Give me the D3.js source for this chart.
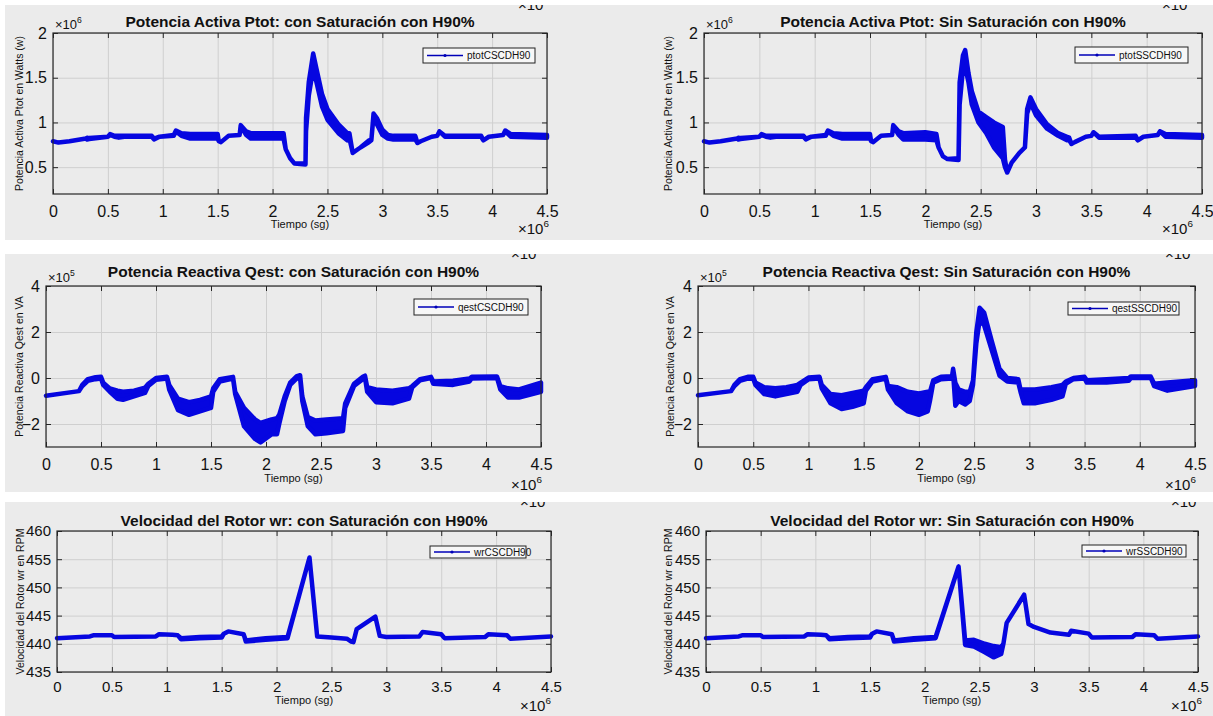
<!DOCTYPE html>
<html>
<head>
<meta charset="utf-8">
<script src="https://cdn.jsdelivr.net/npm/d3@7"></script>
<style>
  body { margin: 0; background: #fff; }
  svg { display: block; }
  text { font-family: "Liberation Sans", Arial, Helvetica, sans-serif; fill: #111; }
</style>
</head>
<body>
<div id="chart"></div>
<script>
// ---- data (time in units of 1e6, as on the x axis) ----
const xTicks = [0, 0.5, 1, 1.5, 2, 2.5, 3, 3.5, 4, 4.5];
const ptotTicks = [0.5, 1, 1.5, 2];
const qestTicks = [-2, 0, 2, 4];
const wrTicks = [435, 440, 445, 450, 455, 460];

// each row: [t, low, high]  (low/high = envelope of the oscillating trace)
const ptotCS = [
  [0,.79,.79],[0.05,.775,.775],[0.15,.79,.79],[0.3,.82,.82],[0.31,.81,.83],[0.33,.815,.825],
  [0.5,.84,.84],[0.52,.86,.87],[0.56,.84,.85],[0.6,.83,.85],[0.65,.84,.85],[0.9,.84,.85],
  [0.92,.81,.82],[0.97,.84,.84],[1.1,.85,.86],[1.12,.9,.91],[1.17,.85,.88],[1.25,.82,.87],
  [1.5,.82,.87],[1.51,.79,.79],[1.53,.78,.78],[1.6,.85,.85],[1.7,.86,.86],[1.71,.96,.97],
  [1.76,.86,.9],[1.8,.82,.88],[2.1,.82,.88],[2.12,.7,.7],[2.16,.6,.6],[2.2,.54,.54],
  [2.3,.53,.54],[2.305,.9,1.05],[2.33,1.3,1.45],[2.37,1.6,1.77],[2.4,1.45,1.6],[2.45,1.18,1.32],
  [2.5,1.03,1.15],[2.6,.88,.98],[2.68,.8,.88],[2.7,.82,.88],[2.73,.66,.66],[2.8,.72,.72],
  [2.88,.78,.8],[2.9,.8,.8],[2.92,1.08,1.1],[2.95,.98,1.05],[3.0,.86,.92],[3.05,.82,.86],
  [3.1,.81,.85],[3.3,.81,.85],[3.32,.77,.77],[3.35,.79,.79],[3.45,.84,.84],[3.5,.85,.85],
  [3.52,.9,.9],[3.57,.84,.85],[3.9,.84,.85],[3.92,.8,.8],[3.97,.84,.84],[4.1,.86,.86],
  [4.12,.9,.91],[4.17,.84,.87],[4.5,.83,.86]
];
const ptotSS = [
  [0,.79,.79],[0.05,.775,.775],[0.15,.79,.79],[0.3,.82,.82],[0.31,.81,.83],[0.33,.815,.825],
  [0.5,.84,.84],[0.52,.86,.87],[0.56,.84,.85],[0.6,.83,.85],[0.65,.84,.85],[0.9,.84,.85],
  [0.92,.81,.82],[0.97,.84,.84],[1.1,.85,.86],[1.12,.9,.91],[1.17,.85,.88],[1.25,.82,.87],
  [1.5,.82,.87],[1.51,.79,.79],[1.53,.78,.78],[1.6,.85,.85],[1.7,.86,.86],[1.71,.96,.97],
  [1.76,.86,.9],[1.8,.81,.88],[2.0,.81,.89],[2.1,.8,.87],[2.12,.72,.72],[2.16,.62,.62],
  [2.2,.59,.59],[2.3,.58,.6],[2.31,1.2,1.45],[2.34,1.6,1.75],[2.36,1.62,1.81],[2.39,1.45,1.55],
  [2.42,1.2,1.35],[2.48,1.0,1.12],[2.55,.88,1.06],[2.62,.72,1.0],[2.7,.6,.95],[2.72,.5,.58],
  [2.74,.44,.44],[2.78,.55,.55],[2.85,.66,.66],[2.9,.72,.72],[2.92,1.1,1.15],[2.95,1.22,1.28],
  [3.0,1.08,1.15],[3.1,.93,.98],[3.2,.85,.88],[3.28,.8,.84],[3.3,.8,.83],[3.32,.76,.76],
  [3.35,.78,.78],[3.45,.84,.84],[3.5,.85,.85],[3.52,.89,.89],[3.57,.83,.84],[3.9,.83,.85],
  [3.92,.8,.8],[3.97,.84,.84],[4.1,.86,.86],[4.12,.9,.9],[4.17,.84,.87],[4.5,.83,.86]
];
const qestCS = [
  [0,-.77,-.77],[0.3,-.57,-.57],[0.33,-.35,-.3],[0.38,-.12,-.05],[0.45,-.05,.03],[0.5,-.02,.05],
  [0.52,-.3,-.2],[0.58,-.6,-.45],[0.65,-.9,-.55],[0.7,-.95,-.6],[0.8,-.8,-.55],[0.9,-.65,-.42],
  [0.93,-.35,-.25],[1.0,-.08,0],[1.1,-.02,.05],[1.12,-.5,-.3],[1.2,-1.4,-.9],[1.3,-1.6,-1.05],
  [1.4,-1.45,-.95],[1.5,-1.3,-.8],[1.52,-.6,-.45],[1.58,-.15,-.05],[1.7,-.02,.05],[1.72,-.7,-.6],
  [1.8,-2.1,-1.3],[1.9,-2.65,-1.8],[1.95,-2.8,-1.95],[2.05,-2.45,-1.8],[2.1,-2.45,-1.75],
  [2.12,-2.0,-1.6],[2.17,-1.0,-.8],[2.22,-.3,-.2],[2.28,-.02,.08],[2.31,0,.12],[2.33,-1.0,-.8],
  [2.38,-2.1,-1.7],[2.45,-2.45,-1.85],[2.55,-2.4,-1.8],[2.7,-2.3,-1.75],[2.72,-1.3,-1.1],
  [2.8,-.35,-.25],[2.88,-.05,.05],[2.9,0,.1],[2.92,-.6,-.4],[3.0,-1.05,-.5],[3.15,-1.1,-.55],
  [3.3,-.9,-.45],[3.33,-.4,-.35],[3.4,-.1,-.05],[3.5,0,.05],[3.52,-.25,-.15],[3.7,-.3,-.12],
  [3.85,-.15,-.02],[3.87,-.02,.05],[4.1,0,.07],[4.13,-.5,-.35],[4.2,-.85,-.45],[4.3,-.85,-.5],
  [4.5,-.6,-.2]
];
const qestSS = [
  [0,-.75,-.75],[0.3,-.57,-.57],[0.33,-.35,-.3],[0.38,-.12,-.05],[0.45,-.03,.05],[0.5,-.02,.05],
  [0.52,-.3,-.2],[0.6,-.7,-.4],[0.7,-.8,-.45],[0.8,-.7,-.4],[0.9,-.6,-.3],[0.93,-.3,-.2],
  [1.0,-.06,.02],[1.1,-.02,.05],[1.12,-.45,-.3],[1.2,-1.1,-.7],[1.3,-1.35,-.75],[1.4,-1.25,-.65],
  [1.5,-1.1,-.55],[1.52,-.55,-.4],[1.58,-.15,-.05],[1.7,-.02,.05],[1.72,-.5,-.35],[1.8,-1.1,-.4],
  [1.9,-1.45,-.6],[2.0,-1.6,-.67],[2.08,-1.45,-.6],[2.1,-1.0,-.6],[2.13,-.2,-.1],[2.2,-.05,.05],
  [2.3,-.02,.08],[2.31,.2,.4],[2.33,-1.2,-.2],[2.36,-1.0,-.5],[2.42,-1.15,-.6],[2.46,-1.0,-.6],
  [2.49,-.3,-.1],[2.52,1.5,2.0],[2.55,2.5,3.05],[2.59,2.3,2.85],[2.66,1.2,1.6],[2.73,.1,.4],
  [2.8,-.15,0],[2.9,-.2,-.05],[2.92,-.6,-.5],[2.95,-1.1,-.5],[3.05,-1.1,-.5],[3.2,-.95,-.4],
  [3.3,-.8,-.3],[3.33,-.25,-.15],[3.4,-.05,0],[3.5,-.02,.05],[3.52,-.2,-.1],[3.7,-.2,-.05],
  [3.9,-.12,0],[3.92,0,.07],[4.1,0,.06],[4.13,-.35,-.25],[4.25,-.55,-.2],[4.5,-.35,-.1]
];
const wrCS = [
  [0,441,441],[0.3,441.3,441.3],[0.33,441.5,441.5],[0.5,441.5,441.5],[0.52,441.2,441.2],
  [0.9,441.3,441.3],[0.93,441.7,441.7],[1.05,441.6,441.6],[1.1,441.5,441.5],[1.13,440.8,441.0],
  [1.3,441.0,441.2],[1.5,441.1,441.3],[1.52,441.8,441.8],[1.56,442.2,442.2],[1.7,441.7,441.7],
  [1.72,440.4,440.6],[1.9,440.7,441.0],[2.1,441.0,441.2],[2.3,455.3,455.3],[2.37,441.3,441.3],
  [2.5,441.1,441.1],[2.64,440.9,440.9],[2.68,440.4,440.4],[2.7,440.3,440.3],[2.73,442.6,442.6],
  [2.9,444.8,444.8],[2.94,441.4,441.4],[3.0,441.2,441.2],[3.3,441.3,441.3],[3.33,442.1,442.1],
  [3.5,441.7,441.7],[3.53,441.0,441.0],[3.9,441.2,441.2],[3.93,441.7,441.7],[4.1,441.5,441.5],
  [4.13,440.9,440.9],[4.5,441.3,441.3]
];
const wrSS = [
  [0,441,441],[0.3,441.3,441.3],[0.33,441.5,441.5],[0.5,441.5,441.5],[0.52,441.2,441.2],
  [0.9,441.3,441.3],[0.93,441.7,441.7],[1.05,441.6,441.6],[1.1,441.5,441.5],[1.13,440.8,441.0],
  [1.3,441.0,441.2],[1.5,441.1,441.3],[1.52,441.8,441.8],[1.56,442.2,442.2],[1.7,441.7,441.7],
  [1.72,440.4,440.6],[1.9,440.7,441.0],[2.1,441.0,441.2],[2.31,453.7,453.7],[2.37,439.8,440.6],
  [2.45,439.5,440.7],[2.55,438.5,440.0],[2.63,437.6,439.6],[2.7,438.2,439.4],[2.72,440,440],
  [2.75,443.7,443.7],[2.91,448.7,448.7],[2.95,443.5,443.5],[3.0,443.0,443.0],[3.15,442.0,442.0],
  [3.32,441.6,441.6],[3.34,442.3,442.3],[3.5,441.8,441.8],[3.53,441.1,441.1],[3.9,441.2,441.2],
  [3.93,441.7,441.7],[4.1,441.5,441.5],[4.13,440.9,440.9],[4.5,441.3,441.3]
];

// ---- layout ----
const W = 1213, H = 716;
const blue = "#0606e0";
const rows = [[5, 5, 235], [5, 254, 238], [5, 502, 214]];

const panels = [
  { box: [53, 33, 547, 194], yDomain: [0.2, 2], yTicks: ptotTicks, data: ptotCS, row: 0,
    title: "Potencia Activa Ptot: con Saturación con H90%", titleY: 27,
    ylab: "Potencia Activa Ptot en Watts (w)", ylabX: 19, xlabY: 228, pad: 12, tick: 16,
    topExp: "6", botExp: [518, 234], legend: [423, 48, 535, 63], name: "ptotCSCDH90" },
  { box: [704, 33, 1202, 194], yDomain: [0.2, 2], yTicks: ptotTicks, data: ptotSS, row: 0,
    title: "Potencia Activa Ptot: Sin Saturación con H90%", titleY: 27,
    ylab: "Potencia Activa Ptot en Watts (w)", ylabX: 668, xlabY: 228, pad: 12, tick: 16,
    topExp: "6", botExp: [1162, 234], legend: [1075, 47, 1188, 63], name: "ptotSSCDH90" },
  { box: [46, 286, 541, 447], yDomain: [-3, 4], yTicks: qestTicks, data: qestCS, row: 1,
    title: "Potencia Reactiva Qest: con Saturación con H90%", titleY: 277,
    ylab: "Potencia Reactiva Qest en VA", ylabX: 19, xlabY: 482, pad: 12, tick: 16,
    topExp: "5", botExp: [511, 490], legend: [414, 299, 528, 315], name: "qestCSCDH90" },
  { box: [698, 286, 1195, 447], yDomain: [-3, 4], yTicks: qestTicks, data: qestSS, row: 1,
    title: "Potencia Reactiva Qest: Sin Saturación con H90%", titleY: 277,
    ylab: "Potencia Reactiva Qest en VA", ylabX: 670, xlabY: 482, pad: 12, tick: 16,
    topExp: "5", botExp: [1165, 490], legend: [1068, 302, 1179, 315], name: "qestSSCDH90" },
  { box: [57, 531, 551, 672], yDomain: [435, 460], yTicks: wrTicks, data: wrCS, row: 2,
    title: "Velocidad del Rotor wr: con Saturación con H90%", titleY: 526,
    ylab: "Velocidad del Rotor wr en RPM", ylabX: 20, xlabY: 704, pad: 9, tick: 15,
    topExp: null, botExp: [520, 711], legend: [430, 546, 526, 558], name: "wrCSCDH90" },
  { box: [706, 531, 1198, 672], yDomain: [435, 460], yTicks: wrTicks, data: wrSS, row: 2,
    title: "Velocidad del Rotor wr: Sin Saturación con H90%", titleY: 526,
    ylab: "Velocidad del Rotor wr en RPM", ylabX: 668, xlabY: 704, pad: 9, tick: 15,
    topExp: null, botExp: [1171, 711], legend: [1082, 545, 1186, 557], name: "wrSSCDH90" }
];

const svg = d3.select("#chart").append("svg")
  .attr("width", W).attr("height", H);

const defs = svg.append("defs");
rows.forEach((r, i) => {
  defs.append("clipPath").attr("id", "row" + i)
    .append("rect").attr("x", r[0]).attr("y", r[1]).attr("width", W - r[0]).attr("height", r[2]);
  svg.append("rect").attr("x", r[0]).attr("y", r[1])
    .attr("width", W - r[0]).attr("height", r[2]).attr("fill", "#ebebeb");
});

function expLabel(g, x, y, exp, size) {
  const t = g.append("text").attr("x", x).attr("y", y).style("font-size", size + "px");
  t.append("tspan").text("×10");
  t.append("tspan").attr("dy", -size * 0.45).style("font-size", (size * 0.66) + "px").text(exp);
  return t;
}

panels.forEach(p => {
  const [x0, y0, x1, y1] = p.box;
  const g = svg.append("g").attr("clip-path", `url(#row${p.row})`);
  const x = d3.scaleLinear().domain([0, 4.5]).range([x0, x1]);
  const y = d3.scaleLinear().domain(p.yDomain).range([y1, y0]);

  // cut-off exponent of the panel above (screenshot crop)
  expLabel(g, p.botExp[0], rows[p.row][1] + 5, "6", 15);

  // grid
  g.append("g").attr("transform", `translate(0,${y1})`)
    .call(d3.axisBottom(x).tickValues(xTicks).tickSize(-(y1 - y0)).tickFormat(""))
    .call(a => a.select(".domain").remove())
    .selectAll("line").attr("stroke", "#cfcfcf");
  g.append("g").attr("transform", `translate(${x0},0)`)
    .call(d3.axisLeft(y).tickValues(p.yTicks).tickSize(-(x1 - x0)).tickFormat(""))
    .call(a => a.select(".domain").remove())
    .selectAll("line").attr("stroke", "#cfcfcf");

  // trace
  const area = d3.area()
    .x(d => x(d[0])).y0(d => y(d[1])).y1(d => y(d[2]));
  g.append("path").datum(p.data)
    .attr("d", area)
    .attr("fill", blue).attr("stroke", blue)
    .attr("stroke-width", 4.5).attr("stroke-linejoin", "round");

  // box + inward ticks on all sides
  const tickCol = "#262626";
  const bottom = g.append("g").attr("transform", `translate(0,${y1})`)
    .call(d3.axisBottom(x).tickValues(xTicks).tickSize(-5).tickPadding(p.pad).tickFormat(d3.format("~g")));
  const top = g.append("g").attr("transform", `translate(0,${y0})`)
    .call(d3.axisTop(x).tickValues(xTicks).tickSize(-5).tickFormat(""));
  const left = g.append("g").attr("transform", `translate(${x0},0)`)
    .call(d3.axisLeft(y).tickValues(p.yTicks).tickSize(-5).tickPadding(6).tickFormat(d3.format("~g")));
  const right = g.append("g").attr("transform", `translate(${x1},0)`)
    .call(d3.axisRight(y).tickValues(p.yTicks).tickSize(-5).tickFormat(""));
  [bottom, top, left, right].forEach(a => {
    a.select(".domain").remove();
    a.selectAll("line").attr("stroke", tickCol);
    a.selectAll("text").attr("fill", "#111").style("font-size", p.tick + "px")
      .style("font-family", '"Liberation Sans", Arial, sans-serif');
  });
  g.append("rect").attr("x", x0).attr("y", y0)
    .attr("width", x1 - x0).attr("height", y1 - y0)
    .attr("fill", "none").attr("stroke", tickCol).attr("stroke-width", 1.2);

  // title
  g.append("text").attr("x", (x0 + x1) / 2).attr("y", p.titleY)
    .attr("text-anchor", "middle").style("font-size", "15.5px").style("font-weight", "bold")
    .text(p.title);

  // axis labels
  g.append("text").attr("x", (x0 + x1) / 2).attr("y", p.xlabY)
    .attr("text-anchor", "middle").style("font-size", "11px").text("Tiempo (sg)");
  g.append("text")
    .attr("transform", `translate(${p.ylabX},${(y0 + y1) / 2}) rotate(-90)`)
    .attr("text-anchor", "middle").attr("dy", "0.35em").style("font-size", "10.5px")
    .text(p.ylab);

  // exponents
  if (p.topExp) expLabel(g, x0 + 2, y0 - 4, p.topExp, 13);
  expLabel(g, p.botExp[0], p.botExp[1], "6", 15);

  // legend
  const [lx0, ly0, lx1, ly1] = p.legend;
  const lg = g.append("g");
  lg.append("rect").attr("x", lx0).attr("y", ly0)
    .attr("width", lx1 - lx0).attr("height", ly1 - ly0)
    .attr("fill", "#f7f7f7").attr("stroke", "#222").attr("stroke-width", 1);
  const ly = (ly0 + ly1) / 2;
  lg.append("line").attr("x1", lx0 + 4).attr("x2", lx0 + 40)
    .attr("y1", ly).attr("y2", ly).attr("stroke", "#0000b8").attr("stroke-width", 1.5);
  lg.append("circle").attr("cx", lx0 + 22).attr("cy", ly).attr("r", 1.6).attr("fill", "#0000b8");
  lg.append("text").attr("x", lx0 + 44).attr("y", ly).attr("dy", "0.35em")
    .style("font-size", "10px").text(p.name);
});
</script>
</body>
</html>
